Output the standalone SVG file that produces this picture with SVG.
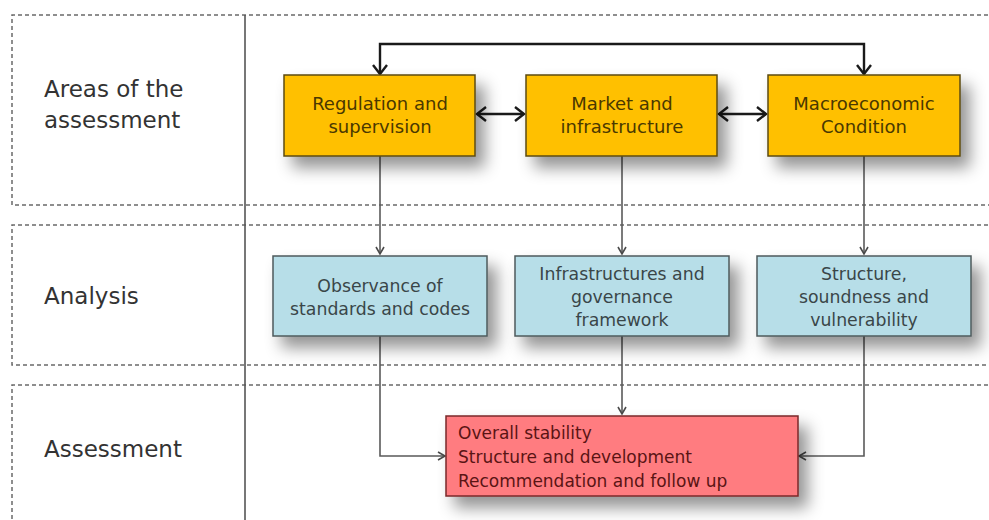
<svg xmlns="http://www.w3.org/2000/svg" width="989" height="520" viewBox="0 0 989 520">
  <defs>
    <filter id="shadow" x="-20%" y="-20%" width="150%" height="170%">
      <feDropShadow dx="9" dy="11" stdDeviation="8" flood-color="#000" flood-opacity="0.42"/>
    </filter>
    <marker id="headBold" markerWidth="14" markerHeight="16" refX="11" refY="8" orient="auto-start-reverse" markerUnits="userSpaceOnUse">
      <path d="M2,1 L11,8 L2,15" fill="none" stroke="#1a1a1a" stroke-width="2.4"/>
    </marker>
    <marker id="headThin" markerWidth="12" markerHeight="12" refX="9" refY="6" orient="auto" markerUnits="userSpaceOnUse">
      <path d="M2,2 L9,6 L2,10" fill="none" stroke="#4a4a4a" stroke-width="1.6"/>
    </marker>
  </defs>
  <style>
    .band { fill: none; stroke: #6a6a6a; stroke-width: 1.5; stroke-dasharray: 4 3; }
    .divider { stroke: #555; stroke-width: 1.6; }
    .side { font-family: "DejaVu Sans", Verdana, sans-serif; font-size: 23px; fill: #333; }
    .box-area rect { fill: #FFC000; stroke: #5c4a10; stroke-width: 1.5; filter: url(#shadow); }
    .box-area text { font-family: "DejaVu Sans", Verdana, sans-serif; font-size: 18px; fill: #4a3800; text-anchor: middle; }
    .box-analysis rect { fill: #B7DEE8; stroke: #4d5a5c; stroke-width: 1.5; filter: url(#shadow); }
    .box-analysis text { font-family: "DejaVu Sans", Verdana, sans-serif; font-size: 17.3px; fill: #3a4648; text-anchor: middle; }
    .box-result rect { fill: #FF7C80; stroke: #7a2a2a; stroke-width: 1.5; filter: url(#shadow); }
    .box-result text { font-family: "DejaVu Sans", Verdana, sans-serif; font-size: 17px; fill: #5a1414; }
    .bold { fill: none; stroke: #1a1a1a; stroke-width: 2.4; }
    .thin { fill: none; stroke: #5a5a5a; stroke-width: 1.6; }
  </style>

  <rect width="989" height="520" fill="#fff"/>

  <!-- swim-lane frames -->
  <g id="lanes">
    <path class="band" d="M995,15 H12 V205 H995"/>
    <path class="band" d="M995,225 H12 V365 H995"/>
    <path class="band" d="M995,385 H12 V525"/>
    <line class="divider" x1="245" y1="15" x2="245" y2="520"/>
  </g>

  <!-- lane titles -->
  <g id="lane-titles">
    <text class="side" x="44" y="97">Areas of the</text>
    <text class="side" x="44" y="128">assessment</text>
    <text class="side" x="44" y="304">Analysis</text>
    <text class="side" x="44" y="457">Assessment</text>
  </g>

  <!-- connectors -->
  <g id="connectors">
    <path class="bold" d="M380,74 V44 H864 V74" marker-start="url(#headBold)" marker-end="url(#headBold)"/>
    <line class="bold" x1="477" y1="114" x2="524" y2="114" marker-start="url(#headBold)" marker-end="url(#headBold)"/>
    <line class="bold" x1="719" y1="114" x2="766" y2="114" marker-start="url(#headBold)" marker-end="url(#headBold)"/>
    <line class="thin" x1="380" y1="156" x2="380" y2="254" marker-end="url(#headThin)"/>
    <line class="thin" x1="622" y1="156" x2="622" y2="254" marker-end="url(#headThin)"/>
    <line class="thin" x1="864" y1="156" x2="864" y2="254" marker-end="url(#headThin)"/>
    <path class="thin" d="M380,336 V456 H445" marker-end="url(#headThin)"/>
    <line class="thin" x1="622" y1="336" x2="622" y2="414" marker-end="url(#headThin)"/>
    <path class="thin" d="M864,336 V456 H799" marker-end="url(#headThin)"/>
  </g>

  <!-- areas of the assessment -->
  <g id="regulation" class="box-area">
    <rect x="284" y="75" width="191" height="81"/>
    <text x="380" y="110">Regulation and</text>
    <text x="380" y="133">supervision</text>
  </g>
  <g id="market" class="box-area">
    <rect x="526" y="75" width="191" height="81"/>
    <text x="622" y="110">Market and</text>
    <text x="622" y="133">infrastructure</text>
  </g>
  <g id="macro" class="box-area">
    <rect x="768" y="75" width="192" height="81"/>
    <text x="864" y="110">Macroeconomic</text>
    <text x="864" y="133">Condition</text>
  </g>

  <!-- analysis -->
  <g id="observance" class="box-analysis">
    <rect x="273" y="256" width="214" height="80"/>
    <text x="380" y="292">Observance of</text>
    <text x="380" y="315">standards and codes</text>
  </g>
  <g id="infrastructures" class="box-analysis">
    <rect x="515" y="256" width="214" height="80"/>
    <text x="622" y="280">Infrastructures and</text>
    <text x="622" y="303">governance</text>
    <text x="622" y="326">framework</text>
  </g>
  <g id="structure" class="box-analysis">
    <rect x="757" y="256" width="214" height="80"/>
    <text x="864" y="280">Structure,</text>
    <text x="864" y="303">soundness and</text>
    <text x="864" y="326">vulnerability</text>
  </g>

  <!-- assessment -->
  <g id="overall" class="box-result">
    <rect x="446" y="416" width="352" height="80"/>
    <text x="458" y="439">Overall stability</text>
    <text x="458" y="463">Structure and development</text>
    <text x="458" y="487">Recommendation and follow up</text>
  </g>
</svg>
